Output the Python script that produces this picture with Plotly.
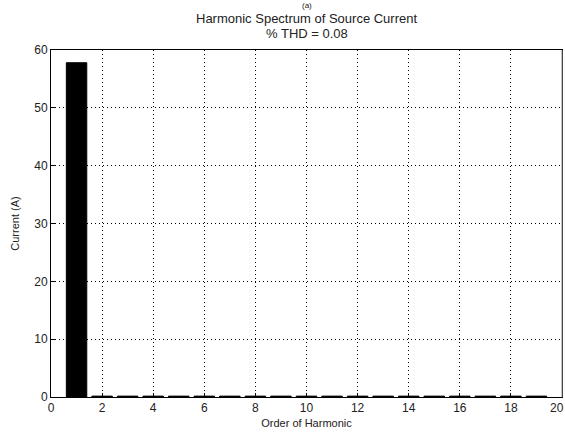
import plotly.graph_objects as go

harmonic_order = list(range(1, 20))
current_amps = [57.8, 0.15, 0.15, 0.15, 0.15, 0.15, 0.15, 0.15, 0.15, 0.15,
                0.15, 0.15, 0.15, 0.15, 0.15, 0.15, 0.15, 0.15, 0.15]
x_ticks = list(range(0, 21, 2))
y_ticks = list(range(0, 61, 10))

title_main = "Harmonic Spectrum of Source Current"
title_thd = "% THD = 0.08"
panel_label = "(a)"

FONT = "Liberation Sans, Arial, sans-serif"

fig = go.Figure()
fig.add_trace(go.Bar(
    x=harmonic_order, y=current_amps, width=0.8,
    marker=dict(color="black", line=dict(color="black", width=1)),
    showlegend=False,
))

axis_common = dict(
    showgrid=True, gridcolor="black", griddash="1px,3px", gridwidth=1,
    ticks="inside", ticklen=4, tickcolor="black", tickwidth=1,
    showline=True, linecolor="black", linewidth=1, mirror=True,
    zeroline=False, tickfont=dict(family=FONT, size=12, color="#222"),
)

fig.update_layout(
    width=565, height=433,
    margin=dict(l=51, r=3, t=50, b=36),
    paper_bgcolor="white", plot_bgcolor="white",
    font=dict(family=FONT, size=12, color="#222"),
    xaxis=dict(range=[0, 20], tickvals=x_ticks[:-1], ticktext=[str(v) for v in x_ticks[:-1]],
               title=dict(text="Order of Harmonic", standoff=4, font=dict(size=11)),
               **axis_common),
    yaxis=dict(range=[0, 60], tickvals=y_ticks, ticktext=[str(v) for v in y_ticks],
               title=dict(text="Current (A)", standoff=12, font=dict(size=11)),
               **axis_common),
    bargap=0.2,
)

# last x tick label, kept just inside the page edge
fig.add_annotation(text=str(x_ticks[-1]), x=x_ticks[-1], xref="x", yref="paper", y=0,
                   yanchor="top", yshift=-2, xshift=-5, showarrow=False, xanchor="center",
                   font=dict(family=FONT, size=12, color="#222"))

fig.add_annotation(text=title_main, xref="paper", yref="paper", x=0.5, y=1,
                   yanchor="top", yshift=41, showarrow=False,
                   font=dict(family=FONT, size=13, color="#222"))
fig.add_annotation(text=title_thd, xref="paper", yref="paper", x=0.5, y=1,
                   yanchor="top", yshift=26, showarrow=False,
                   font=dict(family=FONT, size=13, color="#222"))
fig.add_annotation(text=panel_label, xref="paper", yref="paper", x=0.5, y=1,
                   yanchor="top", yshift=51, showarrow=False,
                   font=dict(family=FONT, size=8, color="#222"))

# gray right border like the reference
fig.add_shape(type="line", xref="paper", yref="paper", x0=1, x1=1, y0=0, y1=1,
              line=dict(color="#888", width=1))

fig.write_html("out.html")
